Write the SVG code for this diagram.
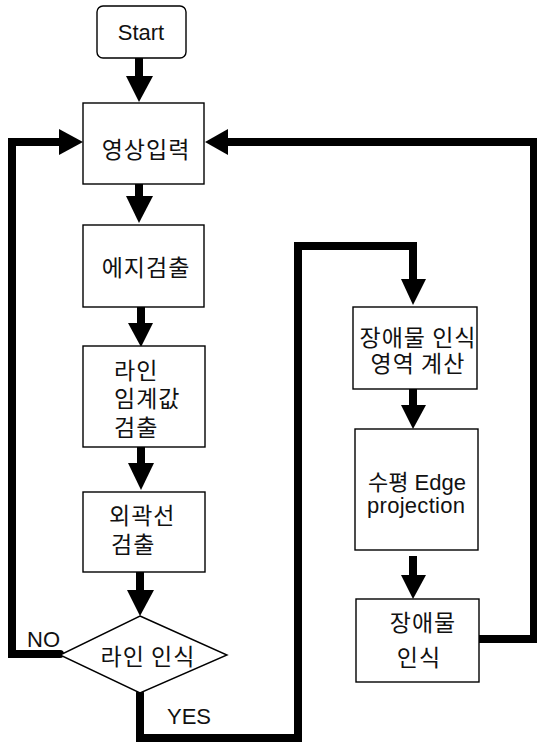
<svg xmlns="http://www.w3.org/2000/svg" width="537" height="743" viewBox="0 0 537 743">
<style>
.box{fill:#fff;stroke:#000;stroke-width:1.4}
.ln{fill:none;stroke:#000;stroke-width:8;stroke-linecap:round;stroke-linejoin:miter}
.sh{fill:none;stroke:#000;stroke-width:8}
.hd{fill:#000}
.ko{font-family:"Noto Sans CJK KR","Noto Sans",sans-serif;font-size:23px;letter-spacing:1px;fill:#111}
.la{font-family:"Liberation Sans","Noto Sans CJK KR",sans-serif;font-size:22px;fill:#111}
</style>
<rect width="537" height="743" fill="#fff"/>
<g id="connectors">
<line class="sh" x1="139" y1="58" x2="139" y2="78"/>
<polygon class="hd" points="126,76 153,76 139,102"/>
<line class="sh" x1="139" y1="184" x2="139" y2="198"/>
<polygon class="hd" points="126,196 153,196 139,223"/>
<line class="sh" x1="141" y1="307" x2="141" y2="325"/>
<polygon class="hd" points="128,323 153,323 141,347"/>
<line class="sh" x1="141" y1="447" x2="141" y2="465"/>
<polygon class="hd" points="128,463 154,463 141,490"/>
<line class="sh" x1="140" y1="572" x2="140" y2="592"/>
<polygon class="hd" points="127,590 154,590 140,616"/>
<path class="ln" d="M60,654 H12 V142 H62"/>
<polygon class="hd" points="59,129 59,155 83,142"/>
<path class="ln" d="M479,639 H534 V142 H226"/>
<polygon class="hd" points="228,129 228,155 205,142"/>
<path class="ln" d="M140,693 V738 H298 V246 H413 V282"/>
<polygon class="hd" points="401,279 426,279 413,305"/>
<line class="sh" x1="413" y1="389" x2="413" y2="407"/>
<polygon class="hd" points="401,405 426,405 413,429"/>
<line class="sh" x1="413" y1="556" x2="413" y2="577"/>
<polygon class="hd" points="401,575 426,575 413,599"/>
<text class="la" x="27" y="647" font-size="20">NO</text>
<text class="la" x="167" y="724" font-size="20">YES</text>
</g>
<g id="start">
<rect class="box" x="97" y="6" width="89" height="52" rx="6"/>
<text class="la" x="141" y="40" font-size="23" text-anchor="middle">Start</text>
</g>
<g id="input">
<rect class="box" x="83" y="103" width="121" height="81"/>
<text class="ko" x="146" y="158" font-size="25" letter-spacing="2" text-anchor="middle">영상입력</text>
</g>
<g id="edge">
<rect class="box" x="83" y="225" width="121" height="82"/>
<text class="ko" x="146" y="276" font-size="25" letter-spacing="1" text-anchor="middle">에지검출</text>
</g>
<g id="threshold">
<rect class="box" x="83" y="346" width="122" height="101"/>
<text class="ko" x="114" y="379">라인</text>
<text class="ko" x="114" y="407">임계값</text>
<text class="ko" x="114" y="436">검출</text>
</g>
<g id="contour">
<rect class="box" x="83" y="492" width="122" height="80"/>
<text class="ko" x="109" y="524">외곽선</text>
<text class="ko" x="111" y="553">검출</text>
</g>
<g id="decision">
<polygon class="box" points="140,616 227,655 140,693 60,655"/>
<text class="ko" x="148" y="665" text-anchor="middle">라인 인식</text>
</g>
<g id="region">
<rect class="box" x="353" y="307" width="124" height="82"/>
<text class="ko" x="418" y="346" font-size="21" text-anchor="middle">장애물 인식</text>
<text class="ko" x="418" y="372" font-size="21" text-anchor="middle">영역 계산</text>
</g>
<g id="projection">
<rect class="box" x="355" y="429" width="123" height="121"/>
<text class="la" x="417" y="490" font-size="21" text-anchor="middle">수평 Edge</text>
<text class="la" x="416" y="513" font-size="21" text-anchor="middle" textLength="98">projection</text>
</g>
<g id="obstacle">
<rect class="box" x="356" y="599" width="123" height="83"/>
<text class="ko" x="423" y="631" font-size="22" letter-spacing="2" text-anchor="middle">장애물</text>
<text class="ko" x="419" y="666" font-size="22" letter-spacing="1" text-anchor="middle">인식</text>
</g>
</svg>
